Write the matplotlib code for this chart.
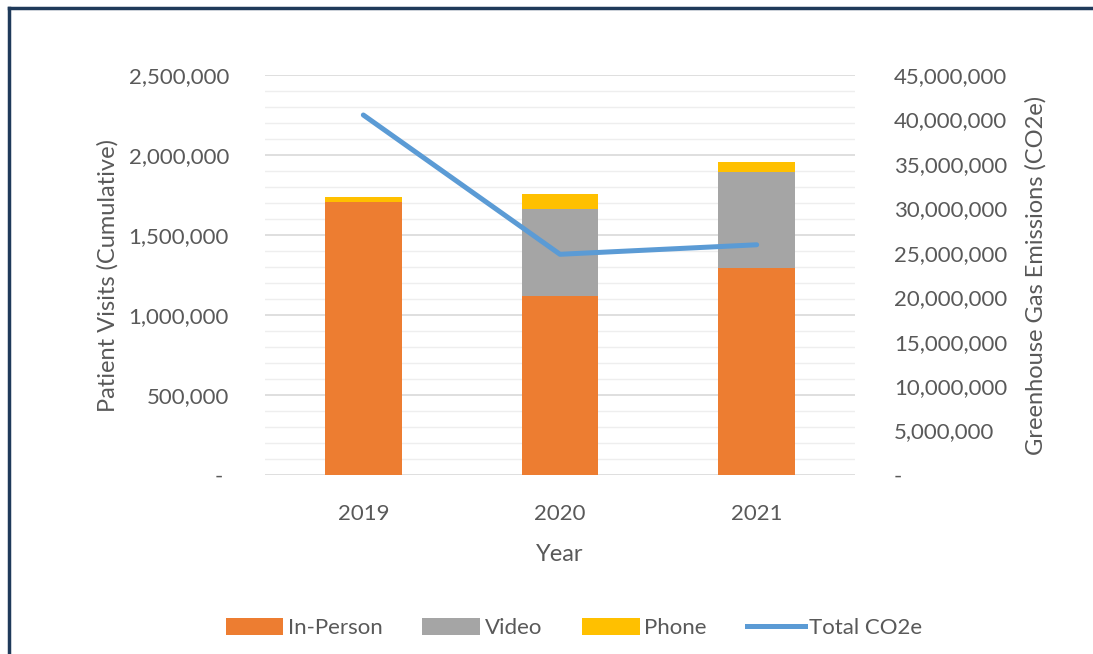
import numpy as np
import matplotlib.pyplot as plt
from matplotlib.ticker import FuncFormatter, MultipleLocator
from matplotlib.lines import Line2D

plt.rcParams['font.family'] = ['Lato', 'DejaVu Sans']

years = ['2019', '2020', '2021']
in_person = [1708000, 1120000, 1292000]
video = [0, 542000, 604000]
phone = [27000, 92000, 58000]
total_co2e = [40500000, 24830000, 25900000]

TXT = '#595959'
C_IN = '#ED7D31'
C_VID = '#A5A5A5'
C_PH = '#FFC000'
C_LINE = '#5B9BD5'

fig = plt.figure(figsize=(10.93, 6.54), dpi=100)
ax = fig.add_axes([265 / 1093, 1 - 475 / 654, 590 / 1093, 400 / 654])
ax2 = ax.twinx()

x = np.arange(len(years))
w = 0.39
ip = np.array(in_person)
vd = np.array(video)
ph = np.array(phone)
ax.bar(x, ip, w, color=C_IN, zorder=3, label='In-Person')
ax.bar(x, vd, w, bottom=ip, color=C_VID, zorder=3, label='Video')
ax.bar(x, ph, w, bottom=ip + vd, color=C_PH, zorder=3, label='Phone')

ax.set_xlim(-0.5, 2.5)
ax.set_ylim(0, 2500000)
ax.yaxis.set_major_locator(MultipleLocator(500000))
ax.yaxis.set_minor_locator(MultipleLocator(100000))
ax.grid(axis='y', which='major', color='#d9d9d9', lw=1.2, zorder=0)
ax.grid(axis='y', which='minor', color='#eeeeee', lw=1.0, zorder=0)
ax.set_axisbelow(True)

ax2.plot(x, total_co2e, color=C_LINE, lw=3.6, solid_capstyle='round', zorder=5)
ax2.set_ylim(0, 45000000)
ax2.yaxis.set_major_locator(MultipleLocator(5000000))

def fmt_left(v, pos):
    return '- ' if v == 0 else f'{int(v):,}'

def fmt_right(v, pos):
    return '-' if v == 0 else f'{int(v):,}'

ax.yaxis.set_major_formatter(FuncFormatter(fmt_left))
ax2.yaxis.set_major_formatter(FuncFormatter(fmt_right))

for a in (ax, ax2):
    for s in a.spines.values():
        s.set_visible(False)
ax.tick_params(axis='y', which='both', length=0, pad=26, labelsize=16, labelcolor=TXT)
ax2.tick_params(axis='y', which='both', length=0, pad=28, labelsize=16, labelcolor=TXT)
ax.tick_params(axis='x', length=0, pad=21, labelsize=16, labelcolor=TXT)
ax.set_xticks(x)
ax.set_xticklabels(years)

ax.set_ylabel('Patient Visits (Cumulative)', fontsize=17, color=TXT, labelpad=7)
ax2.set_ylabel('Greenhouse Gas Emissions (CO2e)', fontsize=17, color=TXT, labelpad=13)
ax.set_xlabel('Year', fontsize=17, color=TXT, labelpad=14)

handles, labels = ax.get_legend_handles_labels()
handles.append(Line2D([0], [0], color=C_LINE, lw=3.6))
labels.append('Total CO2e')
fig.legend(handles, labels, loc='center', bbox_to_anchor=(0.525, 1 - 628 / 654),
           ncol=4, frameon=False, fontsize=16, labelcolor=TXT,
           handlelength=2.6, handleheight=0.8, handletextpad=0.2, columnspacing=1.8)

# dark frame on top and left edges
fig.add_artist(Line2D([9 / 1093, 9 / 1093], [0, 1 - 8 / 654], transform=fig.transFigure,
                      color='#1F3A5A', lw=2.5))
fig.add_artist(Line2D([9 / 1093, 1], [1 - 8 / 654, 1 - 8 / 654], transform=fig.transFigure,
                      color='#1F3A5A', lw=2.5))

fig.savefig('out.png', dpi=100)
